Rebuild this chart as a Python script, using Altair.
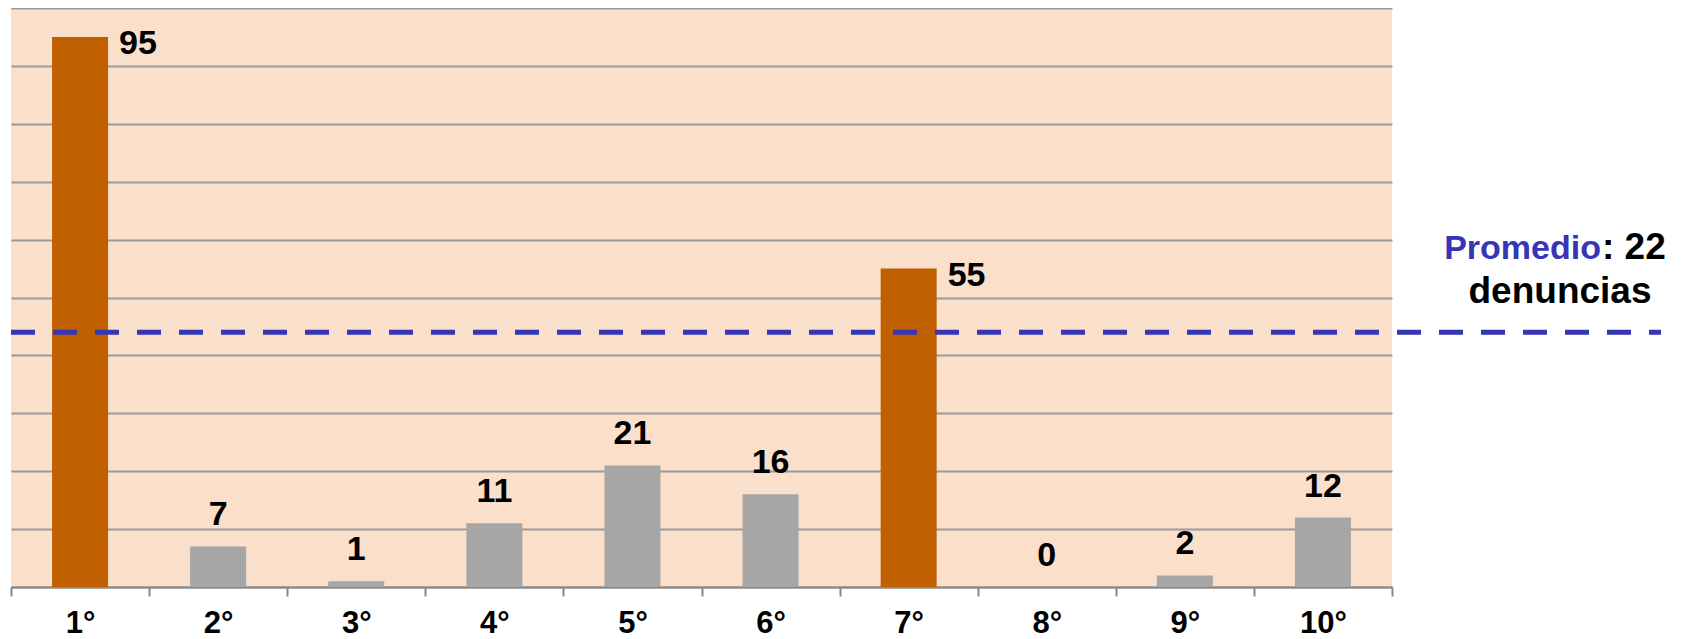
import altair as alt
import pandas as pd

categories = ["1°", "2°", "3°", "4°", "5°", "6°", "7°", "8°", "9°", "10°"]
values = [95, 7, 1, 11, 21, 16, 55, 0, 2, 12]
highlight = [True, False, False, False, False, False, True, False, False, False]
avg_line_level = 44  # position of dashed reference line as read on the value scale
avg_label_value = 22

df = pd.DataFrame({"cat": categories, "val": values, "hl": highlight})

FONT = "Liberation Sans"
ORANGE = "#C06000"
GREY = "#A6A6A6"
BLUE = "#3535B5"

x_enc = alt.X("cat:N", sort=categories, title=None,
              scale=alt.Scale(paddingInner=0, paddingOuter=0),
              axis=alt.Axis(labelAngle=0, labelFont=FONT, labelFontSize=31,
                            labelFontWeight="bold", labelColor="black",
                            labelPadding=12, tickBand="extent", ticks=True,
                            tickSize=9, tickColor="#888888", tickWidth=2,
                            domainColor="#888888", domainWidth=2, grid=False))
y_enc = alt.Y("val:Q", title=None,
              scale=alt.Scale(domain=[0, 100], nice=False),
              axis=alt.Axis(values=list(range(0, 101, 10)), labels=False,
                            ticks=False, domain=False, grid=True,
                            gridColor="#9A9A9A", gridWidth=2))

base = alt.Chart(df)

bars = base.mark_bar(size=56).encode(
    x=x_enc, y=y_enc,
    color=alt.Color("hl:N", scale=alt.Scale(domain=[True, False], range=[ORANGE, GREY]), legend=None),
)

labels_side = base.transform_filter("datum.hl").mark_text(
    font=FONT, fontSize=34, fontWeight="bold", color="black",
    align="left", baseline="middle", dx=39, dy=7,
).encode(x=alt.X("cat:N", sort=categories), y="val:Q", text="val:Q")

labels_top = base.transform_filter("!datum.hl").mark_text(
    font=FONT, fontSize=34, fontWeight="bold", color="black",
    align="center", baseline="alphabetic", dy=-21,
).encode(x=alt.X("cat:N", sort=categories), y="val:Q", text="val:Q")

avg_df = pd.DataFrame({"lvl": [avg_line_level], "txt1": ["Promedio"],
                       "txt2": [f": {avg_label_value}"], "txt3": ["denuncias"]})
avg_base = alt.Chart(avg_df)

rule = avg_base.mark_rule(color=BLUE, strokeWidth=5, strokeDash=[24, 18]).encode(
    y="lvl:Q", x=alt.value(0), x2=alt.value(1650))

t1 = avg_base.mark_text(font=FONT, fontSize=34, fontWeight="bold", color=BLUE,
                        align="right", baseline="alphabetic").encode(
    text="txt1:N", x=alt.value(1590), y=alt.value(251))
t2 = avg_base.mark_text(font=FONT, fontSize=37, fontWeight="bold", color="black",
                        align="left", baseline="alphabetic").encode(
    text="txt2:N", x=alt.value(1591), y=alt.value(251))
t3 = avg_base.mark_text(font=FONT, fontSize=37, fontWeight="bold", color="black",
                        align="center", baseline="alphabetic").encode(
    text="txt3:N", x=alt.value(1549), y=alt.value(295))

chart = alt.layer(bars, labels_side, labels_top, rule, t1, t2, t3).properties(
    width=1381, height=579, padding=0, background="white"
).configure_view(fill="#FADFCA", stroke=None)

chart.save("out.html", embed_options={"renderer": "svg", "actions": False})
